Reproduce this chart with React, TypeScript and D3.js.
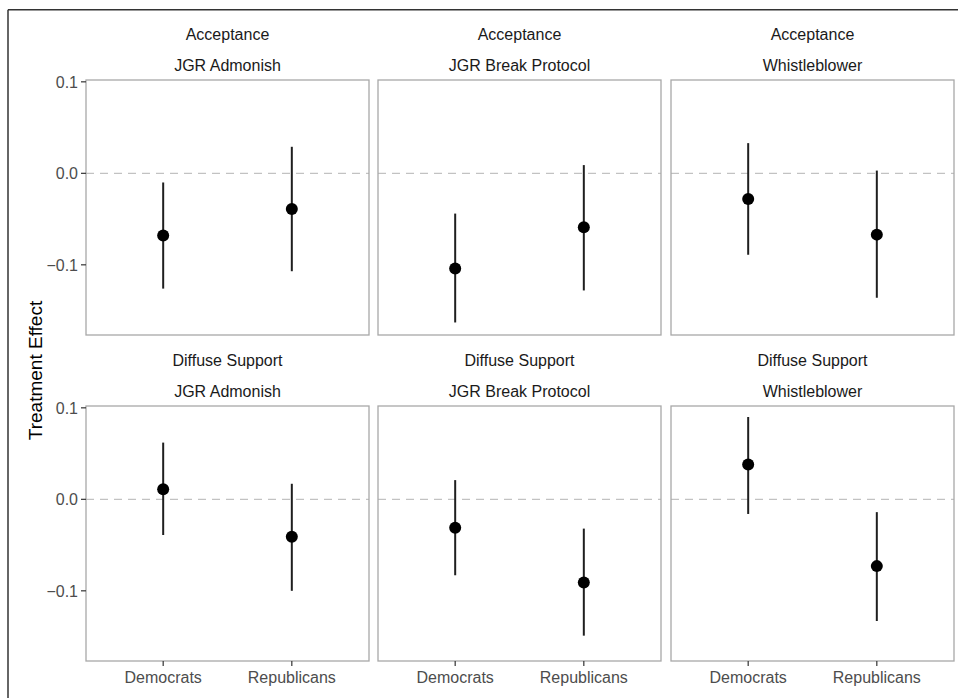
import React from "react";
import * as d3 from "d3";

const outcomes = ["Acceptance", "Diffuse Support"];
const treatments = ["JGR Admonish", "JGR Break Protocol", "Whistleblower"];
const parties = ["Democrats", "Republicans"];
const yTicks = [0.1, 0.0, -0.1];

// [treatment][party]
const accEstimate = [[-0.068, -0.039], [-0.104, -0.059], [-0.028, -0.067]];
const accLower = [[-0.126, -0.107], [-0.163, -0.128], [-0.089, -0.136]];
const accUpper = [[-0.010, 0.029], [-0.044, 0.009], [0.033, 0.003]];
const difEstimate = [[0.011, -0.041], [-0.031, -0.091], [0.038, -0.073]];
const difLower = [[-0.039, -0.100], [-0.083, -0.149], [-0.016, -0.133]];
const difUpper = [[0.062, 0.017], [0.021, -0.032], [0.090, -0.014]];

const estimates = [accEstimate, difEstimate];
const lowers = [accLower, difLower];
const uppers = [accUpper, difUpper];

const W = 958;
const H = 698;
const panelLeft = [86, 378, 671];
const panelW = 283;
const panelTop = [80, 406];
const panelH = 255;
const FONT = "'Liberation Sans', Arial, Helvetica, sans-serif";

export default function App() {
  const fmt = d3.format(".1f");
  return (
    <svg
      width={W}
      height={H}
      style={{ position: "absolute", left: 0, top: 0, background: "#fff" }}
      fontFamily={FONT}
    >
      <rect x={0} y={0} width={W} height={H} fill="#fff" />
      <line x1={8} y1={9.7} x2={W} y2={9.7} stroke="#333" strokeWidth={1.5} />
      <line x1={8} y1={9.7} x2={8} y2={H} stroke="#333" strokeWidth={1.5} />
      {outcomes.map((out, r) => {
        const top = panelTop[r];
        const y = d3.scaleLinear().domain([-0.1767, 0.102]).range([top + panelH, top]);
        return treatments.map((tr, c) => {
          const left = panelLeft[c];
          const x = d3
            .scalePoint<string>()
            .domain(parties)
            .range([left, left + panelW])
            .padding(0.6);
          return (
            <g key={`${r}-${c}`}>
              <text x={left + panelW / 2} y={top - 40} textAnchor="middle" fontSize={16} fill="#1a1a1a">
                {out}
              </text>
              <text x={left + panelW / 2} y={top - 9} textAnchor="middle" fontSize={16} fill="#1a1a1a">
                {tr}
              </text>
              <line
                x1={left}
                x2={left + panelW}
                y1={y(0)}
                y2={y(0)}
                stroke="#c2c2c2"
                strokeWidth={1.3}
                strokeDasharray="8,6"
              />
              {parties.map((p, k) => (
                <g key={p}>
                  <line
                    x1={x(p)}
                    x2={x(p)}
                    y1={y(lowers[r][c][k])}
                    y2={y(uppers[r][c][k])}
                    stroke="#1f1f1f"
                    strokeWidth={2}
                  />
                  <circle cx={x(p)} cy={y(estimates[r][c][k])} r={6} fill="#000" />
                </g>
              ))}
              <rect
                x={left}
                y={top}
                width={panelW}
                height={panelH}
                fill="none"
                stroke="#a8a8a8"
                strokeWidth={1.3}
              />
              {c === 0 &&
                yTicks.map((t) => (
                  <g key={t}>
                    <line x1={left - 5} x2={left} y1={y(t)} y2={y(t)} stroke="#333" strokeWidth={1.2} />
                    <text
                      x={left - 8}
                      y={y(t)}
                      dy="0.36em"
                      textAnchor="end"
                      fontSize={16}
                      fill="#4d4d4d"
                    >
                      {fmt(t)}
                    </text>
                  </g>
                ))}
              {r === 1 &&
                parties.map((p) => (
                  <g key={p}>
                    <line
                      x1={x(p)}
                      x2={x(p)}
                      y1={top + panelH}
                      y2={top + panelH + 5}
                      stroke="#333"
                      strokeWidth={1.2}
                    />
                    <text x={x(p)} y={top + panelH + 22} textAnchor="middle" fontSize={16} fill="#4d4d4d">
                      {p}
                    </text>
                  </g>
                ))}
            </g>
          );
        });
      })}
      <text
        transform={`translate(42, ${(panelTop[0] + panelTop[1] + panelH) / 2}) rotate(-90)`}
        textAnchor="middle"
        fontSize={19}
        fill="#000"
      >
        Treatment Effect
      </text>
    </svg>
  );
}
